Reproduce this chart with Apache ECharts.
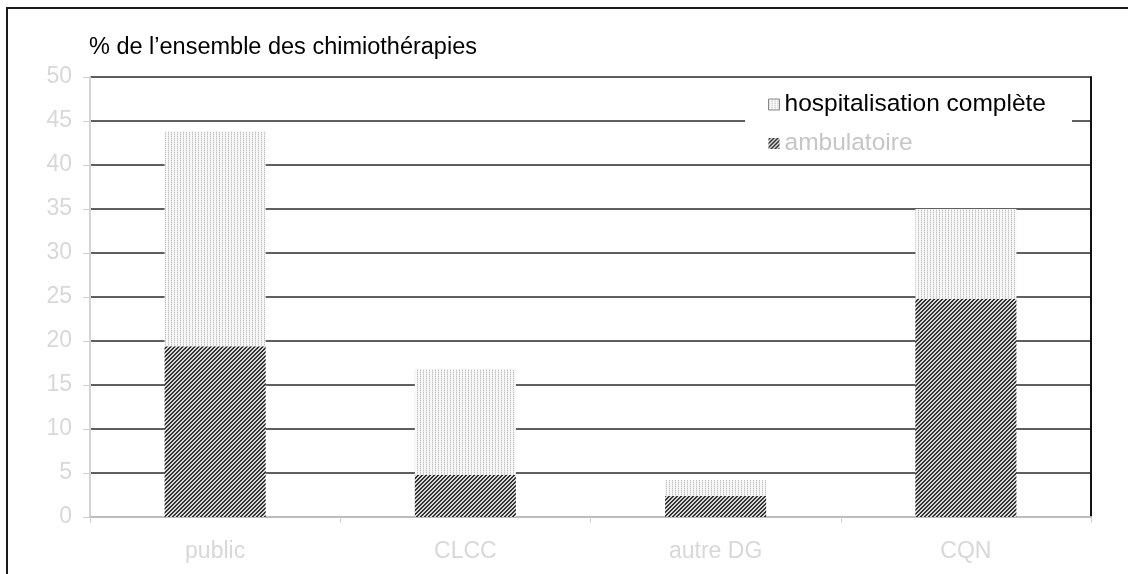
<!DOCTYPE html>
<html>
<head>
<meta charset="utf-8">
<script src="https://cdn.jsdelivr.net/npm/echarts@6/dist/echarts.min.js"></script>
<style>
  html, body { margin: 0; padding: 0; background: #fff; }
  #chart { width: 1128px; height: 574px; }
</style>
</head>
<body>
<div id="chart"></div>
<script>
// Share of all chemotherapies by type of establishment
const categories = ['public', 'CLCC', 'autre DG', 'CQN'];
const ambulatoire = [19.4, 4.8, 2.4, 24.8];
const hospitalisationComplete = [24.4, 12.0, 1.8, 10.2];
const yTicks = { min: 0, max: 50, interval: 5 };
const titleText = '% de l\u2019ensemble des chimiothérapies';
const seriesNames = ['hospitalisation complète', 'ambulatoire'];

// Small tiled fills: dense diagonal hatch and light vertical dots
function makePattern(w, h, pick) {
  const c = document.createElement('canvas');
  c.width = w; c.height = h;
  const ctx = c.getContext('2d');
  for (let y = 0; y < h; y++) {
    for (let x = 0; x < w; x++) {
      ctx.fillStyle = pick(x, y);
      ctx.fillRect(x, y, 1, 1);
    }
  }
  return { image: c, repeat: 'repeat' };
}
const hatchDark = makePattern(4, 4, (x, y) => ((x + y) % 4 < 2 ? '#333333' : '#d8d8d8'));
const dotsLight = makePattern(3, 2, (x, y) => (x === 0 ? (y === 0 ? '#c2c2c2' : '#e2e2e2') : '#f8f8f8'));

const font = 'Liberation Sans, Arial, sans-serif';
const chart = echarts.init(document.getElementById('chart'), null, { renderer: 'canvas' });

chart.setOption({
  animation: false,
  backgroundColor: '#fff',
  title: {
    text: titleText,
    left: 89,
    top: 36,
    padding: 0,
    textStyle: { color: '#000', fontSize: 23.5, fontWeight: 'normal', fontFamily: font }
  },
  graphic: [{
    type: 'rect',
    shape: { x: 7, y: 8, width: 1400, height: 800 },
    style: { fill: 'none', stroke: '#1a1a1a', lineWidth: 2 },
    silent: true
  }],
  legend: {
    orient: 'vertical',
    left: 745,
    top: 84,
    padding: [8, 26, 6, 23],
    backgroundColor: '#fff',
    itemWidth: 11,
    itemHeight: 11,
    itemGap: 14,
    icon: 'rect',
    textStyle: { fontSize: 24.5, fontFamily: font, color: '#000' },
    data: [
      { name: seriesNames[0], itemStyle: { borderColor: '#8a8a8a', borderWidth: 1 }, textStyle: { color: '#000' } },
      { name: seriesNames[1], textStyle: { color: '#c6c6c6' } }
    ]
  },
  grid: { left: 90, top: 77, right: 37, bottom: 57, containLabel: false },
  xAxis: {
    type: 'category',
    data: categories,
    boundaryGap: true,
    axisLine: { show: true, lineStyle: { color: '#bdbdbd', width: 2 } },
    axisTick: { show: true, length: 6, lineStyle: { color: '#d0d0d0', width: 1 } },
    axisLabel: { color: '#d8d8d8', fontSize: 23, fontFamily: font, margin: 23 },
    splitLine: { show: false }
  },
  yAxis: [{
    type: 'value',
    min: yTicks.min,
    max: yTicks.max,
    interval: yTicks.interval,
    axisLine: { show: true, lineStyle: { color: '#d4d4d4', width: 2 } },
    axisTick: { show: true, length: 7, lineStyle: { color: '#d0d0d0', width: 1 } },
    axisLabel: { color: '#d8d8d8', fontSize: 23, fontFamily: font, margin: 18 },
    splitLine: { show: true, showMinLine: false, lineStyle: { color: '#2a2a2a', width: 1.5 } }
  }, {
    type: 'value',
    position: 'right',
    min: yTicks.min,
    max: yTicks.max,
    interval: yTicks.interval,
    axisLine: { show: true, lineStyle: { color: '#111', width: 2 } },
    axisTick: { show: false },
    axisLabel: { show: false },
    splitLine: { show: false }
  }],
  series: [{
    name: seriesNames[1],
    type: 'bar',
    stack: 'total',
    barWidth: '40.4%',
    data: ambulatoire,
    itemStyle: { color: hatchDark }
  }, {
    name: seriesNames[0],
    type: 'bar',
    stack: 'total',
    barWidth: '40.4%',
    data: hospitalisationComplete,
    itemStyle: { color: dotsLight }
  }]
});
</script>
</body>
</html>
